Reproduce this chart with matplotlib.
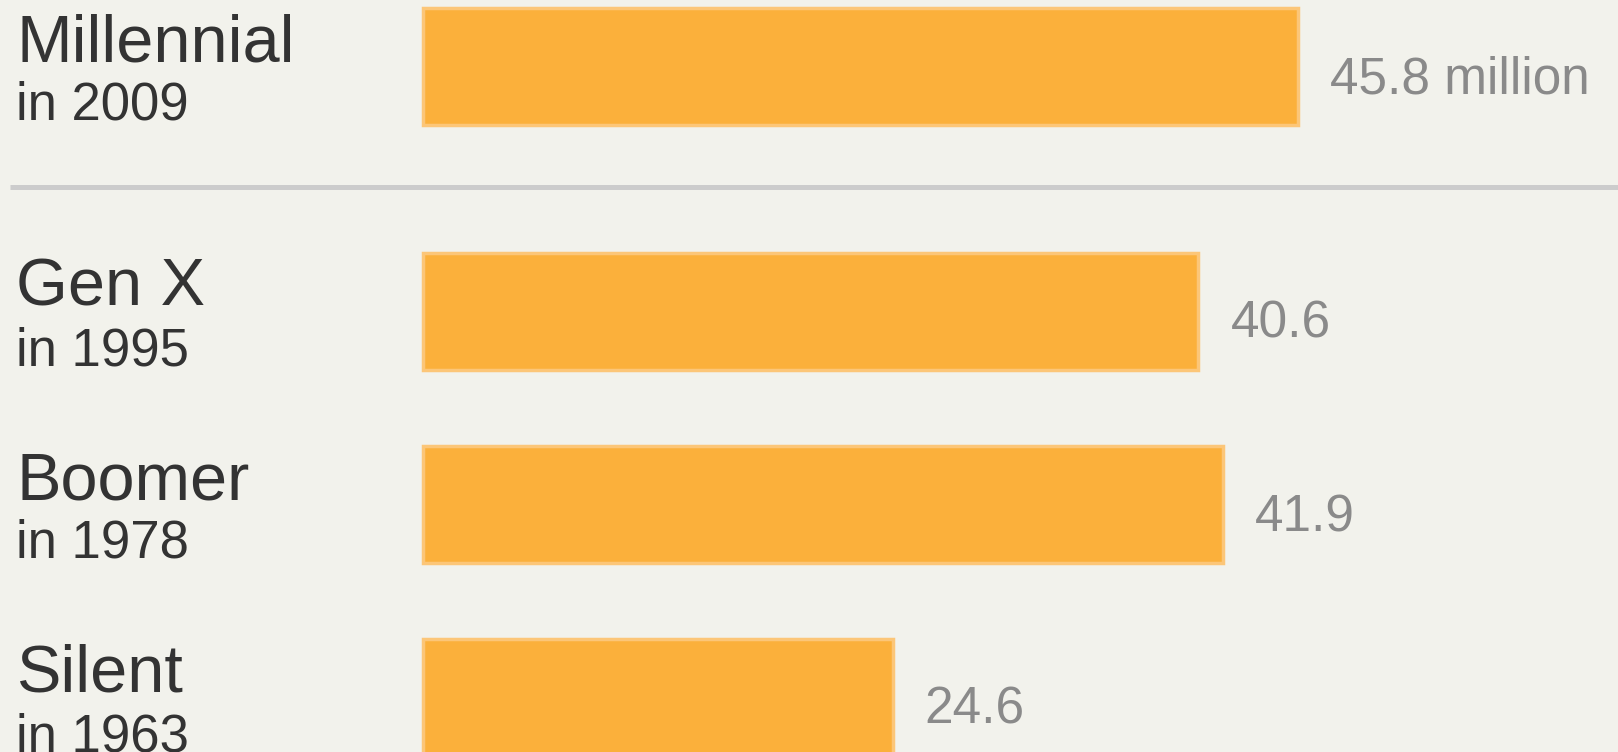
import matplotlib.pyplot as plt
import matplotlib.transforms as mtransforms

# data
generations = ["Millennial", "Gen X", "Boomer", "Silent"]
years = ["2009", "1995", "1978", "1963"]
workers = [45.8, 40.6, 41.9, 24.6]
value_labels = ["45.8 million", "40.6", "41.9", "24.6"]

BG = "#F2F2EC"
BAR = "#FBB03B"

plt.rcParams['font.family'] = ['Liberation Sans', 'DejaVu Sans']

fig = plt.figure(figsize=(16.18, 7.52), dpi=100, facecolor=BG)
ax = fig.add_axes([0, 0, 1, 1])
ax.set_facecolor(BG)

# x in millions (bar origin ~423px, ~19.1 px per million), y in pixel rows
px_per_m = 19.1
x0 = 423
ax.set_xlim(-x0 / px_per_m, (1618 - x0) / px_per_m)
ax.set_ylim(752, 0)

# row centres: first row, then a gap for the separator line
centers = []
for i in range(len(generations)):
    c = 66 + 193 * i + (52 if i > 0 else 0)
    centers.append(c)

ax.barh(centers, workers, height=117, color=BAR, edgecolor="#FCC678",
        linewidth=2.5, left=0)

blend = mtransforms.blended_transform_factory(ax.transAxes, ax.transData)
for name, yr, c in zip(generations, years, centers):
    ax.text(16 / 1618, c - 5, name, transform=blend, fontsize=48,
            color="#333333", va="baseline", ha="left")
    ax.text(16 / 1618, c + 54, "in " + yr, transform=blend, fontsize=38,
            color="#333333", va="baseline", ha="left")

for v, lab, c in zip(workers, value_labels, centers):
    ax.annotate(lab, xy=(v, c + 27), xytext=(32, 0), textcoords="offset pixels",
                fontsize=37, color="#8A8A8A", va="baseline", ha="left")

# separator between Millennial and the rest
sep_y = (centers[0] + centers[1]) / 2 - 2
ax.plot([10 / 1618, 1], [sep_y, sep_y], transform=blend, color="#CCCCCC",
        linewidth=3.6, solid_capstyle="butt")

ax.axis("off")
fig.savefig("out.png", dpi=100, facecolor=BG)
